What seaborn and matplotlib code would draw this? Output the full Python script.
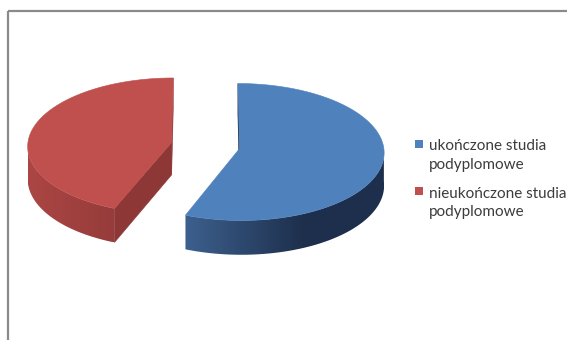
import numpy as np
import matplotlib
matplotlib.use("Agg")
import matplotlib.pyplot as plt
import seaborn as sns
from matplotlib.patches import Polygon, Rectangle
from matplotlib.colors import to_rgb

# ---- data -------------------------------------------------------------
labels = ["ukończone studia\npodyplomowe", "nieukończone studia\npodyplomowe"]
values = [56, 44]

# ---- style ------------------------------------------------------------
top_colors = ["#4f81bd", "#c0504d"]
wall_light = ["#3d608e", "#ab4644"]
wall_dark = ["#1d2f4c", "#963c3a"]
wall_ramp = [0.6, 1.0]
cut_colors = ["#1b2b45", "#8d3836"]

sns.set_theme(style="white")
plt.rcParams["font.family"] = ["Lato", "DejaVu Sans"]

W, H_PX = 567, 340
fig = plt.figure(figsize=(W / 100, H_PX / 100), dpi=100)
ax = fig.add_axes([0, 0, 1, 1])
ax.axis("off")

# pie geometry (pixel layout of the 3-D disk)
CX, CY = 205.5, 145.5      # centre of the undisplaced pie
RX, RY = 144.0, 68.0       # radii of the top ellipse
DEPTH = 32.5               # thickness of the disk
PERSP = 0.05               # mild perspective: the back is drawn smaller
EXPLODE = 0.24


def project(u, v, z):
    """Map disk coordinates (u, v in radius units, z=0 top / -1 bottom)."""
    u = np.asarray(u, float)
    v = np.asarray(v, float)
    z = np.asarray(z, float)
    s = 1.0 / (1.0 + PERSP * v)
    return CX + RX * u * s, CY - (RY * v + DEPTH * z) * s


total = float(sum(values))
spans = [360.0 * v / total for v in values]

slices = []
start = 90.0
for i, span in enumerate(spans):
    t1, t2 = start, start - span          # drawn clockwise from 12 o'clock
    mid = np.radians((t1 + t2) / 2)
    du, dv = EXPLODE * np.cos(mid), EXPLODE * np.sin(mid)
    slices.append((i, t1, t2, du, dv))
    start = t2

layer = 1
# back slices first
for i, t1, t2, du, dv in sorted(slices, key=lambda s: -s[4]):
    th = np.radians(np.linspace(t2, t1, 361))
    ru, rv = du + np.cos(th), dv + np.sin(th)

    faces = []   # (depth, kind, polygon)

    # outer rim wall: only the part that faces the viewer
    front = np.sin(th) < 0
    if front.any():
        fu, fv = ru[front], rv[front]
        xt, yt = project(fu, fv, np.zeros_like(fu))
        xb, yb = project(fu, fv, -np.ones_like(fu))
        poly = np.column_stack([np.r_[xt, xb[::-1]], np.r_[yt, yb[::-1]]])
        faces.append((np.mean(fv), "rim", poly))

    # straight cut walls along the two radii
    for ang, nrm in ((t1, t1 + 90.0), (t2, t2 - 90.0)):
        if np.sin(np.radians(nrm)) < 0.05:
            a = np.radians(ang)
            eu, ev = du + np.cos(a), dv + np.sin(a)
            px, py = project([du, eu, eu, du], [dv, ev, ev, dv], [0, 0, -1, -1])
            faces.append(((dv + ev) / 2, "cut", np.column_stack([px, py])))

    for _, kind, poly in sorted(faces, key=lambda f: -f[0]):
        if kind == "rim":
            xy = np.asarray(poly)
            x0, x1 = xy[:, 0].min(), xy[:, 0].max()
            y0, y1 = xy[:, 1].min(), xy[:, 1].max()
            t = np.clip(np.linspace(0, 1, 256) / wall_ramp[i], 0, 1)
            a_, b_ = np.array(to_rgb(wall_light[i])), np.array(to_rgb(wall_dark[i]))
            img = (a_[None, :] + (b_ - a_)[None, :] * t[:, None])[None, :, :]
            clip = Polygon(xy, closed=True, facecolor="none", edgecolor="none")
            ax.add_patch(clip)
            im = ax.imshow(img, extent=(x0, x1, y1, y0), aspect="auto",
                           interpolation="bilinear", zorder=layer)
            im.set_clip_path(clip)
        else:
            ax.add_patch(Polygon(poly, closed=True, facecolor=cut_colors[i],
                                 edgecolor=cut_colors[i], lw=0.4, zorder=layer))
        layer += 1

    # top face
    px, py = project(np.r_[du, ru], np.r_[dv, rv], np.zeros(len(ru) + 1))
    ax.add_patch(Polygon(np.column_stack([px, py]), closed=True,
                         facecolor=top_colors[i], edgecolor=top_colors[i], lw=0.4,
                         zorder=layer))
    layer += 1

ax.set_xlim(0, W)
ax.set_ylim(H_PX, 0)

# legend: swatch next to the first line of each two-line label
for i, lab in enumerate(labels):
    first_base = 149 + 47 * i
    ax.add_patch(Rectangle((415, first_base - 9.5), 8, 8, facecolor=top_colors[i],
                           edgecolor="none", zorder=layer))
    ax.text(429, first_base - 9.5, lab, fontsize=11, color="#3c3c3c", va="top",
            ha="left", linespacing=1.45, zorder=layer)

# chart frame
ax.add_patch(Rectangle((7.5, 10.5), 700, 500, fill=False, edgecolor="#8a8a8a",
                       lw=1.6, clip_on=True, zorder=layer))

fig.savefig("out.png", dpi=100, facecolor="white")
